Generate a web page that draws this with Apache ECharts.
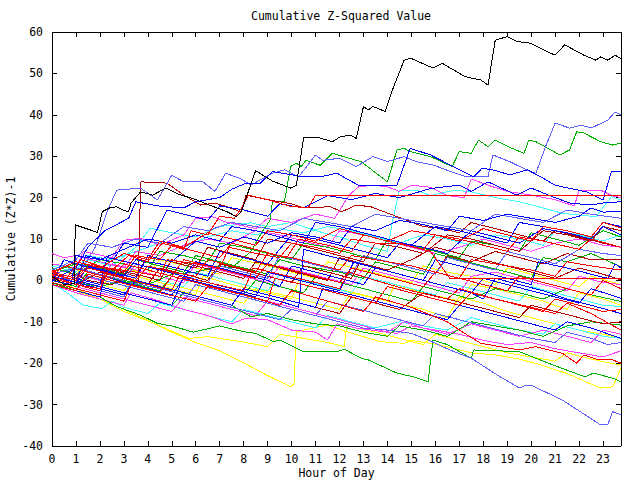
<!DOCTYPE html>
<html><head><meta charset="utf-8">
<script src="https://cdn.jsdelivr.net/npm/echarts@6/dist/echarts.min.js"></script>
<style>html,body{margin:0;padding:0;background:#fff}#c{width:640px;height:480px}#c svg path{shape-rendering:crispEdges}</style>
</head><body><div id="c"></div>
<script>
// x tick labels (hours)
const hourTicks = [0,1,2,3,4,5,6,7,8,9,10,11,12,13,14,15,16,17,18,19,20,21,22,23];
const yTicks = [-40,-30,-20,-10,0,10,20,30,40,50,60];

// series values: [hour, cumulative (z*z)-1]
const K1 = [[0,1],[0.5,-1],[0.93,-0.8],[0.97,13.4],[1.9,11.6],[2.1,16.6],[2.4,17.5],[2.7,17.8],[2.95,17],[3.2,16.6],[3.3,18.7],[3.7,21.4],[4.2,20.6],[4.75,22.3],[5.2,21],[6.0,19.5],[6.75,17.8],[7.3,16.6],[7.7,15.4],[7.9,16.6],[8.5,26.5],[9.2,24],[9.96,22.3],[10.2,23],[10.5,34.4],[11.07,34.6],[11.7,33.5],[12.04,34.7],[12.46,35.1],[12.7,34.3],[13.0,42],[13.2,41.2],[13.4,42],[13.9,40.8],[14.26,46.8],[14.7,53.2],[14.96,53.7],[15.9,51.3],[16.3,52.4],[17.25,49.2],[17.9,48.4],[18.2,47.2],[18.5,58],[19.0,58.9],[19.4,57.7],[19.96,57.3],[20.4,56],[21.0,54.4],[21.4,56.9],[22.2,54.4],[22.7,53.2],[22.9,54],[23.2,53.2],[23.5,54.4],[23.75,53.6]];
const S1 = [[0,1.5],[0.8,0],[1.3,3],[1.8,8],[2.3,16.6],[2.7,21.8],[3.7,22.3],[4.4,19.4],[5.0,25.4],[5.5,23.8],[6.3,23.8],[6.8,21.5],[7.25,25.9],[7.9,24.5],[8.3,23],[9.2,25.9],[9.7,26.7],[10.3,25],[11,30.3],[11.3,29],[12,29.5],[12.7,27.5],[13.4,29.9],[14,28.7],[14.7,29.9],[15.2,28.7],[15.9,27.9],[16.5,26.6],[17.3,25],[18.2,25],[18.4,30.3],[19.1,28.7],[19.95,26.3],[20.2,25.9],[20.6,32.3],[21,38],[21.6,36.8],[22.1,37.5],[22.5,36.8],[23.2,38.7],[23.5,40.7],[23.75,40]];
const S2 = [[0,0.5],[1,-1],[2,-2.5],[3,-4],[3.3,-0.5],[4.5,-2],[5.5,-3.5],[6.5,-5],[7.5,-6.5],[8.5,-8],[9.5,-9.5],[10,-7],[11,-8.5],[12,-10],[13,-11.5],[14,-12],[15,-12.8],[15.7,-14.4],[16.6,-16.8],[17.5,-18.8],[18.6,-22.9],[19.5,-26],[19.8,-25.3],[20,-25.3],[21.3,-28.9],[22.9,-34.9],[23.2,-34.9],[23.4,-31.7],[23.75,-32.5]];
const S3 = [[0,-1],[1,-2.5],[1.5,1],[2.5,-0.5],[3.5,-2],[4.5,-3.5],[5.5,-5],[6,-1],[7,-2.5],[8,-4],[9,-5.5],[10,-7],[11,-8.5],[11.5,-5],[12.5,-6.5],[13.5,-8],[14.5,-9.5],[15.5,-11],[16,-8],[17,-9.5],[18,-11],[19,-12.5],[20,-14],[21,-15],[21.5,-12.5],[22.5,-14],[23.2,-15.5],[23.75,-15]];
const S4 = [[0,1.5],[1,3],[2,1.5],[3,0],[3.5,4],[4.5,2.5],[5.5,1],[6.5,-0.5],[7,3.5],[8,2],[9,0.5],[9.5,6],[10.5,4.5],[11.5,3],[12.5,1.5],[13,6],[14,4.5],[15,3],[16,1.5],[16.5,5.5],[17.5,4],[18.5,2.5],[19,7],[20,5.5],[21,4],[22,7.5],[23,6.5],[23.75,6]];
const S5 = [[0,2.5],[1,5],[1.5,9],[2.5,8],[3.5,10],[4.5,9],[5.5,13],[6.5,12],[7.5,14],[8.5,13],[9.5,12],[10.5,15],[11.5,14],[12.5,13],[13.5,16],[14.5,15],[15.5,14],[16.5,13],[17.5,12],[18.5,16],[19.5,15],[20.5,14],[21.5,17],[22.5,16],[23.75,15]];
const B1 = [[0,0],[1,3],[1.5,8],[2.2,12],[3.2,15],[3.5,19],[4.4,18],[5.5,17.5],[6,19],[7,20],[7.5,22],[8.1,23.5],[8.7,23.5],[9.2,26.3],[10,25.5],[10.5,25],[11.2,25],[11.9,25.9],[12.4,24.2],[12.8,23],[14,23],[14.4,23],[14.95,31.9],[15.8,30.3],[16.75,27.5],[17.6,25],[17.95,27.1],[18.4,26.7],[19.1,25.5],[19.85,26.7],[20.4,25],[21,23],[21.3,22.6],[22.3,21.4],[23,19.4],[23.35,26.3],[23.75,26.3]];
const B2 = [[0,1],[1,-0.5],[1.4,6],[2.5,4.5],[3,9],[4,8],[4.8,17],[5.5,16],[6.5,14.5],[7,18],[8,17],[9,15.5],[9.5,18.5],[10.5,17.5],[11.5,20.5],[12.5,19.5],[13.5,21],[14.5,20],[15.8,22.2],[17,23],[17.5,21.5],[18.2,23.8],[19.4,20.6],[20,22.3],[20.9,20.2],[21.6,18.7],[22.5,18.2],[23,18.7],[23.75,19]];
const B3 = [[0,0.5],[1,-1],[1.5,3.5],[2.5,2],[3.5,0.5],[4,6],[5,4.5],[6,9.5],[7,8],[8,10.5],[9,9],[10,11.5],[11,10.5],[12,9],[12.5,13],[13.5,12],[14.5,14.5],[15.5,13.5],[16.5,12],[17,15.5],[18,14.5],[19,16],[20,15],[21,14],[22,15.5],[22.5,17.5],[23,16.5],[23.75,16.6]];
const B4 = [[0,-0.5],[0.5,5],[1,4],[2,2.5],[3,1],[3.5,5],[4.5,4],[5.5,2.5],[6.5,1],[7,7],[8,5.5],[9,4],[10,11],[11,10],[12,8.5],[13,7],[14,5.5],[14.5,9],[15.5,8],[16.5,6.5],[17.5,12],[18.5,10.5],[19.5,9],[20.5,12.5],[21.5,11.5],[22.5,10],[23,13],[23.75,11]];
const B5 = [[0,2],[1,0.5],[2,-1],[2.3,5.5],[3.5,4],[4.5,2.5],[5.5,1],[6,4.5],[7,3],[8,1.5],[9,0],[9.5,-1.5],[10,3.5],[11,2],[12,0.5],[13,-1],[13.5,3],[14.5,1.5],[15.5,0],[16.5,-1.5],[17.5,-3],[18,0.5],[19,-1],[20,-2.5],[21,-4],[22,-5.5],[22.5,-2],[23.75,-4.3]];
const B6 = [[0,1],[1,-0.5],[2,-2],[3,-3.5],[3.5,0],[4.5,-1.5],[5.5,-3],[6.5,-4.5],[7.5,-6],[8,-2],[9,-3.5],[10,-5],[11,-6.5],[11.3,-2],[12.5,-3.5],[13.5,-5],[14.5,-6.5],[15.5,-8],[16.5,-9.5],[17,-6],[18,-7.5],[19,-9],[20,-10.5],[21,-12],[21.5,-10],[22.5,-11.5],[23.75,-14]];
const B7 = [[0,1.5],[1,0],[2,-1.5],[3,-3],[4,-4.5],[5,-6],[5.5,1],[6.5,-0.5],[7.5,-2],[8.5,-3.5],[9.5,-5],[10.3,-6.5],[10.5,7.5],[11.5,6],[12.5,4.5],[13.5,3],[14.5,1.5],[15.5,0],[16.5,-1.5],[17.5,-3],[18,-4.5],[18.5,0.5],[19.5,-1],[20.5,-2.5],[21.5,-4.5],[22.5,-6],[23.75,-8]];
const B8 = [[0,-1],[1,-2.5],[2,-4],[2.2,1],[3,-0.5],[4,-2],[5,-3.5],[5.5,0.5],[6.5,-1],[7.5,-2.5],[8.5,-4],[9,2],[10,0.5],[11,-1],[12,-2.5],[12.6,4.5],[13.5,3],[14.5,1.5],[15.5,0],[16,5],[17,3.5],[18,2],[19,0.5],[20,-1],[20.3,4.5],[21.5,3],[22.5,1.5],[23.2,0.5],[23.5,4],[23.75,3]];
const B9 = [[0,0],[0.8,-1],[1,6],[2,5],[3,7.5],[4,10],[5,9],[6,11],[7,9.5],[7.5,13],[8.5,12],[9.5,10.5],[10.5,9],[11,14],[12,13],[13,11.5],[14,10],[15,8.5],[16,13],[17,12],[18,10.5],[19,9],[19.5,14],[20.5,13],[21.5,12],[22.5,10.5],[23,14],[23.75,13]];
const G1 = [[0,1],[1,-0.5],[2,-1.5],[3,0],[4,-1],[5,1.5],[6,2],[7,3.5],[7.5,3],[8.3,7],[8.8,12],[9.1,14.5],[9.2,19],[9.7,19],[9.96,27.5],[10.2,28.3],[10.4,27.5],[10.6,29],[11.2,27.8],[11.7,30.7],[12.4,29.5],[12.9,28.7],[14,23.8],[14.4,31.5],[14.7,31.9],[14.96,31.1],[15.8,29.9],[16.7,27.5],[17.0,31.1],[17.5,30.7],[17.8,33.9],[18.2,32.3],[18.5,33.9],[19.2,31.9],[19.7,30.7],[19.9,33.9],[20.2,33.5],[21.2,30.3],[21.6,31.5],[21.9,35.9],[22.2,35.6],[22.9,33.5],[23.4,32.7],[23.75,33.2]];
const G2 = [[0,-0.5],[1,-2.5],[2,-4],[2.7,-6.3],[3.7,-8.4],[4.4,-10.4],[5,-11],[5.9,-12.5],[7,-11],[8,-12.4],[8.5,-12.8],[9.25,-14.8],[9.5,-14.4],[10.5,-17.2],[11.9,-17.2],[12.2,-16.6],[12.9,-18.8],[13.2,-19.2],[14.4,-22.4],[15.1,-23.3],[15.7,-24.5],[15.9,-14.4],[16.5,-15.5],[17.5,-18.8],[17.6,-16.8],[19.5,-17.2],[20.9,-20.4],[22.25,-23.3],[22.6,-22.4],[23.4,-23.6],[23.75,-24.5]];
const G3 = [[0,1.5],[1,0],[2,-1.5],[3,-3],[4,-4.5],[5,-6],[5.5,-3],[6.5,-4.5],[7.5,-6],[8.3,-8.8],[9,-8],[10,-9.5],[11,-10.5],[12,-11],[13,-12.5],[14,-13.5],[14.5,-11],[15.5,-12],[16.5,-13.5],[17.5,-10],[18.5,-11],[19.5,-12],[20.5,-13.5],[21.5,-11],[22.5,-10],[23.75,-10.8]];
const G4 = [[0,2],[1,4],[2,3],[3,1.5],[3.5,5],[4.5,3.5],[5.5,2],[6,6],[7,4.5],[8,3],[9,1.5],[9.5,5],[10.5,3.5],[12,2],[13,0.5],[13.5,4.5],[14.5,3],[15.5,1.5],[16,6.5],[17,5],[18,3.5],[19,2],[20,0.5],[20.5,5.5],[21.5,4.5],[22.5,6.5],[23.75,3.3]];
const G5 = [[0,0],[1,-1.5],[1.5,2],[2.5,0.5],[3.5,-1],[4.5,-2.5],[5,1],[6,-0.5],[7,-2],[8,-3.5],[8.5,0],[9.5,-1.5],[10.5,-3],[11,1],[12,-0.5],[13,-2],[14,-3.5],[15,-5],[15.5,-1.5],[16.5,-3],[17.5,-4.5],[18.5,-2],[19.5,-3],[20.5,-4.5],[21.5,-2],[22.5,-3.5],[23.75,-5.1]];
const G6 = [[0,3],[1,1.5],[2,5],[3,4],[4,2.5],[4.5,7],[5.5,6],[6.5,4.5],[7,9],[8,8],[9,6.5],[10,5],[10.5,9],[11.5,8],[12.5,6.5],[13.5,5],[14,10],[15,8.5],[16,7],[17,5.5],[17.5,9.5],[18.5,8.5],[19.5,7],[20,11.5],[21,10],[22,8.5],[23,12],[23.75,10.5]];
const R1 = [[0,2],[1,0.5],[1.6,4],[2.5,2.5],[3.2,6],[4,4.5],[4.6,9],[5.5,7.5],[5.8,12],[6.5,11],[7.0,15.5],[7.6,15],[7.9,17.4],[8.2,20.6],[9,19.5],[10,17.8],[10.7,17.6],[11.0,20.6],[23.75,20.6]];
const R2 = [[0,1],[1,-1],[2,-2],[2.4,3],[3.5,2],[4.5,1],[4.8,5],[6,4],[7,3],[7.4,8],[8.5,6.5],[9.5,5.5],[10,9],[11,8],[12,6.5],[12.5,10],[13.5,9],[14.5,9],[15.8,7],[16.3,3],[16.6,0.5],[23.75,0.5]];
const R3 = [[0,0.5],[1,-1],[2,-2.5],[2.2,2],[3,0.5],[4,-1],[5,-2.5],[5.3,1],[6.5,-0.5],[8,-2.5],[8.4,3],[9.5,1.5],[11,-0.5],[12,-2],[12.4,2],[13.5,0],[15,-2.5],[16.5,-4.5],[17,-2],[18.5,-4.5],[20,-6.5],[21,-8],[21.5,-5.5],[22.5,-8],[23.75,-12]];
const R4 = [[0,-0.5],[1,-2],[2,-3.5],[3,-5],[3.3,-1],[4.5,-3],[6,-5],[6.5,-1.5],[8,-3.5],[9.5,-6],[10,-2.5],[11.5,-5],[13,-7.5],[13.5,-4],[15,-6.5],[16.5,-10],[17.2,-12.7],[17.9,-15.2],[19.5,-16.8],[20.2,-16],[21.3,-17.6],[21.9,-20],[22.2,-18],[22.8,-19.2],[23.4,-19.2],[23.75,-20]];
const R5 = [[0,2.5],[0.6,0.5],[1.2,5],[2,3.5],[3,2],[3.5,6],[4.5,5],[5,8.5],[6,7],[7,5.5],[7.5,9],[8.5,7.5],[9.8,5.5],[10.3,10],[11.5,8.5],[12.5,7],[13,11],[14,9.5],[15.5,7.5],[16,11],[17,10],[18,8.5],[19,7],[19.5,10.5],[20.5,9.5],[22,7.5],[22.5,10],[23.75,8]];
const R6 = [[0,1.5],[1,0],[1.5,3],[2.5,1.5],[3.5,0],[4,3.5],[5,2],[6,1],[6.5,5],[7.5,3.5],[8.5,2],[9,6.5],[10,5.5],[11,4],[12,2.5],[12.5,6],[13.5,5],[15,3.5],[16,2],[17,0.5],[17.5,5],[18.5,4],[20,2.5],[21,1],[21.5,4.5],[22.5,3.5],[23.75,2.5]];
const R7 = [[0,1],[0.5,3.5],[1.5,2],[2.5,0.5],[3,4],[4,2.5],[5,1],[5.5,5],[6.5,3.5],[7.5,2],[8.5,0.5],[9,4],[10,2.5],[11,1],[12,-0.5],[12.5,3],[13.5,1.5],[14.5,0],[15.5,-1.5],[16,2],[17,0.5],[18,-1],[19,-2.5],[19.5,1],[20.5,-0.5],[21.5,-2],[22.5,-3.5],[23,0],[23.75,-2]];
const R8 = [[0,-1],[1,-2.5],[1.5,1.5],[2.5,0],[3.5,-1.5],[4.5,-3],[5,1],[6,-0.5],[7,-2],[8,-3.5],[9,-5],[9.3,0.5],[10.5,-1],[11.5,-2.5],[12.5,-4],[13.5,-5.5],[14,-1.5],[15,-3],[16,-4.5],[17,-6],[17.5,-3],[18.5,-4.5],[19.5,-6],[20.5,-7.5],[21,-4.5],[22,-6],[23,-7.5],[23.75,-7]];
const R9 = [[0,2],[1,4.5],[2,3],[3,6.5],[4,5],[4.5,9.5],[5.5,8],[6.5,11.5],[7.5,10],[8.5,8.5],[9,12],[10,11],[11,9.5],[12,12.5],[13,11],[14,9.5],[15,12],[16,11],[17,9.5],[18,12.5],[19,11],[20,9.5],[20.5,13],[21.5,12],[22.5,10.5],[23,14],[23.75,12.7]];
const D1 = [[0,2],[0.5,0.5],[1,1.5],[1.5,0],[2.5,-1],[3,0.5],[3.6,-0.5],[3.7,23.8],[4.8,23.5],[5.5,20.6],[6.2,18.2],[6.8,18.7],[7.3,17.8],[7.9,16.5],[8.1,20.6],[9,19.5],[10,18.5],[10.5,17.5],[11.6,17.8],[12.1,16.6],[12.7,18.2],[13.3,17.8],[14.4,15.4],[15.5,13],[16.2,12.6],[17,11.5],[17.5,14],[18.5,12.5],[19.5,11],[20.5,9.5],[21,12],[22,10.5],[23,9],[23.75,8]];
const D2 = [[0,2],[1,0.5],[2,-1],[2.3,3],[3.5,1.5],[4.5,0],[5,5],[6,3.5],[7,2],[8,0.5],[8.5,4.5],[9.5,3],[10.5,1.5],[11.5,0],[12,5.5],[13,4],[14,2.5],[15,5],[16,8],[17,6.5],[18,5],[19,3.5],[20,2],[21,0.5],[22,3],[23,1.5],[23.75,0.1]];
const D3 = [[0,1],[1,-0.5],[2,-2],[3,-3.5],[3.5,0],[4.5,-1.5],[5.5,-3],[6.5,-4.5],[7.5,-6],[8,-2],[9,-3.5],[10,-5],[11,-6.5],[12,-8],[12.5,-4],[13.5,-5.5],[14.5,-7],[15.5,-3],[16.5,-4.5],[17.5,-6],[18.5,-7.5],[19.5,-9],[20,-6],[21,-7.5],[22,-9],[23,-10.5],[23.75,-10]];
const D4 = [[0,1.5],[1,0],[1.3,4],[2.5,2.5],[3.5,1],[4,6],[5,4.5],[6,3],[6.5,8],[7.5,6.5],[8.5,5],[9,10],[10,9],[11,7.5],[12,6],[13,4.5],[13.5,9],[14.5,8],[15.5,6.5],[16.5,11],[17.5,10],[18.5,8.5],[19.5,7],[20.5,12],[21.5,11],[22.5,9.5],[23,13],[23.75,12]];
const D5 = [[0,0.5],[1,-1],[2,2],[3,0.5],[4,-1],[4.5,3],[5.5,1.5],[6.5,0],[7,4],[8,2.5],[9,1],[10,-0.5],[10.5,3.5],[11.5,2],[12.5,0.5],[13,6],[14,4.5],[15,3],[16,1.5],[16.5,6],[17.5,4.5],[18.5,7],[19.5,5.5],[20.5,4],[21.5,6.5],[22.5,5],[23.75,5]];
const M1 = [[0,4],[1,3],[1.3,7],[2.5,5.5],[3,9.7],[3.7,10.2],[4.5,8.5],[5.5,11],[6,15],[6.7,15.4],[7.2,14.2],[8.5,12.5],[9,15],[10,14],[11,16],[11.8,15],[12.4,20.6],[12.8,22.6],[13.4,23],[14,22.6],[14.5,21.5],[15,23],[15.8,22.5],[16.5,20.5],[17.2,20],[17.5,24.5],[18.3,22.8],[19,21.5],[20,20.6],[21,19.5],[21.8,18],[22,21.6],[22.9,21.8],[23.4,20.4],[23.75,20]];
const M2 = [[0,-1],[1,-3],[2,-4.5],[3,-6],[3.3,-3],[4.5,-5],[5.5,-7],[6.5,-8.5],[7.5,-10.5],[8.1,-9.1],[9,-9.5],[10,-12],[11,-12.5],[11.5,-14.4],[11.9,-10.5],[12.7,-11.5],[13.7,-12.3],[14.4,-12.8],[15,-11],[16,-12],[17,-13],[18,-14.5],[19,-15.5],[20,-15],[21,-16.5],[22,-17.5],[23,-18.5],[23.75,-17]];
const M3 = [[0,6.5],[0.5,5.5],[1,6],[2,4.5],[3,3],[3.5,7],[4.5,6],[5.5,8.5],[6.5,10],[7.5,9],[8.5,12],[9.5,11],[10.5,9.5],[11.5,8],[12,12],[13,11],[14,9.5],[15,8],[16,6.5],[17,8],[18,10],[19,8.5],[20,7],[21,9],[22,10],[23,8.5],[23.75,8]];
const M4 = [[0,0],[1,-1.5],[2,-3],[3,-4.5],[4,-6],[5,-7.5],[5.5,-4],[6.5,-5.5],[7.5,-7],[8.5,-8.5],[9,-5],[10,-6.5],[11,-8],[12,-9.5],[13,-11],[14,-12.5],[14.7,-10],[15.5,-11.5],[16.5,-13],[17.5,-10.5],[18.5,-12],[19.5,-13.5],[20.5,-12],[21.5,-13.5],[22.5,-15],[23,-12],[23.75,-13]];
const M5 = [[0,3],[1,1.5],[2,0],[2.5,4],[3.5,2.5],[4.5,1],[5.5,-0.5],[6,4],[7,2.5],[8,1],[9,-0.5],[9.5,3.5],[10.5,2],[11.5,0.5],[12.5,-1],[13,3],[14,1.5],[15,0],[16,-1.5],[17,-3],[17.5,1],[18.5,2],[19.5,0.5],[20.5,-1],[21.5,-2.5],[22,1],[23,-0.5],[23.75,-1]];
const C1 = [[0,3.5],[1,2],[1.5,5],[2.5,3.5],[3.5,8],[4.1,12.6],[5,11.5],[6,10.5],[7,13],[8.3,13.9],[9,13],[10,14],[11,12],[12,10.5],[13,8.5],[14,7],[14.2,13.9],[14.5,21.8],[15.2,21.8],[15.8,20.5],[16.8,21.8],[17.5,21.4],[18.5,20],[19.5,19],[20.5,17.5],[21.3,16.2],[22.7,15.4],[23.35,20.2],[23.75,19.4]];
const C2 = [[0,2],[1,0.5],[2,-1],[2.5,3],[3.5,1.5],[4.5,0],[5.5,-1.5],[6,2],[7,0.5],[8,-1],[9,-2.5],[9.5,1.5],[10.5,0],[11.5,-1.5],[12.5,-3],[13,1],[14,-0.5],[15,-2],[16,-3.5],[16.5,-0.5],[17.5,-2],[18.5,-3.5],[19.5,-5],[20,-1.5],[21,-3],[22,-4.5],[23,-6],[23.75,-6.3]];
const C3 = [[0,-0.5],[0.75,-3.5],[1.3,-6],[2.1,-6.8],[2.5,-5],[3,-6.5],[4,-8],[4.5,-5.5],[5.5,-7],[6.5,-8.5],[7.5,-10],[8,-7],[9,-8.5],[10,-10],[11,-11.5],[11.5,-8.5],[12.5,-10],[13.5,-11.5],[14.5,-10],[15.5,-11],[16.5,-12],[17.5,-9],[18.5,-10.5],[19.5,-12],[20.5,-13],[21,-10.5],[22,-12],[23,-13.5],[23.75,-14]];
const C4 = [[0,4],[1,2.5],[1.5,6],[2.5,5],[3.5,7],[4.5,9],[5.5,8],[6.5,10.5],[7.5,12],[8.5,11],[9.5,12.5],[10.5,11.5],[11.5,13],[12.5,12],[13.5,10.5],[14.5,9],[15.5,11],[16.5,10],[17.5,8.5],[18.5,11],[19.5,10],[20.5,8.5],[21,12],[22,11],[23,9.5],[23.75,11]];
const Y1 = [[0,0.5],[1,-2],[2,-4.5],[3,-7.5],[4.1,-10],[5,-12.5],[6,-15],[7,-17],[7.9,-19.6],[9,-23],[9.96,-25.7],[10.1,-25],[10.2,-12.4],[10.9,-11.5],[11.5,-10.8],[12.3,-12.4],[13.7,-14.8],[14.7,-15.2],[15,-14.5],[16.2,-15.6],[17.5,-17.5],[18.5,-18],[19.5,-19],[20.4,-20.4],[21.5,-22.5],[22.4,-24.8],[22.9,-26],[23.4,-25.7],[23.75,-21.2]];
const Y2 = [[0,-0.5],[1,-2.5],[2,-4.5],[3,-7],[4.3,-10.5],[5.7,-14],[6.5,-13.6],[7.9,-14.8],[9,-16],[9.5,-13],[10.5,-14],[11.5,-15],[12.2,-16],[12.3,-11],[13.5,-12.5],[14.5,-14],[15.5,-15.5],[16,-13],[17,-14.5],[18,-16],[19,-17.5],[20,-18.5],[21,-19.5],[21.5,-17.5],[22.5,-19],[23.75,-20.5]];
const Y3 = [[0,2],[1,0.5],[2,-1],[3,-2.5],[3.5,1],[4.5,-0.5],[6,-2.5],[7,-4],[8,-5.5],[8.5,-2],[10,-4],[11,-5.5],[12,-7],[12.5,-3],[14,-5],[15.5,-7],[16.5,-9],[17,-4],[18,-5.5],[19,-7.5],[20,-9],[21,-10.5],[22,-12],[23,-13],[23.75,-14]];
const Y4 = [[0,1],[1,-0.5],[2,-2],[2.5,1.5],[3.5,0],[5,-2],[6,-3.5],[6.3,1],[7.5,-1],[9,-3],[10,-4.5],[10.3,0],[11.5,-1.5],[13,-3.5],[14,-5],[14.3,-1],[15.5,-3],[17,-5],[17.5,-1],[18.5,-2],[19.5,-3.5],[20.5,-5],[21.5,-7],[22,-3],[23,-4.5],[23.75,-6]];
const Y5 = [[0,3],[1,1.5],[1.5,5],[3,3],[4,1.5],[4.5,5],[6,3],[7,1.5],[7.5,5.5],[9,3.5],[10,2],[11,0.5],[11.5,4.5],[13,2.5],[14,1],[15,-0.5],[15.5,3.5],[16.5,2],[17.5,1],[18.5,-1],[19,3],[20,1.5],[21,0],[22,-1.5],[22.5,1],[23.75,-1]];

const RED='#ff0000', GRN='#00b000', BLU='#0000ff', MAG='#ff40ff', CYN='#40ffff', DRD='#b00000', YEL='#ffff00', BLK='#000000', SLT='#6060ff';
const seriesList = [
  [Y1,YEL],[Y2,YEL],[Y3,YEL],[Y4,YEL],[Y5,YEL],
  [C1,CYN],[C2,CYN],[C3,CYN],[C4,CYN],
  [M1,MAG],[M2,MAG],[M3,MAG],[M4,MAG],[M5,MAG],
  [G1,GRN],[G2,GRN],[G3,GRN],[G4,GRN],[G5,GRN],[G6,GRN],
  [D1,DRD],[D2,DRD],[D3,DRD],[D4,DRD],[D5,DRD],
  [S1,SLT],[S2,SLT],[S3,SLT],[S4,SLT],[S5,SLT],
  [B1,BLU],[B2,BLU],[B3,BLU],[B4,BLU],[B5,BLU],[B6,BLU],[B7,BLU],[B8,BLU],[B9,BLU],
  [R1,RED],[R2,RED],[R3,RED],[R4,RED],[R5,RED],[R6,RED],[R7,RED],[R8,RED],[R9,RED],
  [K1,BLK]
];

const FONT = 'DejaVu Sans Mono';
const chart = echarts.init(document.getElementById('c'), null, {renderer:'svg'});
const axisCommon = {
  type:'value', axisLine:{show:true, onZero:false, lineStyle:{color:'#000', width:1}},
  axisTick:{show:true, inside:true, length:5, lineStyle:{color:'#000'}},
  splitLine:{show:false}
};
chart.setOption({
  animation:false,
  backgroundColor:'#fff',
  title:{text:'Cumulative Z-Squared Value', left:336, top:5, textAlign:'center',
    textStyle:{fontFamily:FONT, fontSize:11.5, fontWeight:'normal', color:'#000'}},
  grid:{left:52, right:19, top:32, bottom:34, containLabel:false, outerBoundsMode:'none'},
  xAxis:[
    Object.assign({}, axisCommon, {position:'bottom', min:0, max:23.75, interval:1,
      name:'Hour of Day', nameLocation:'middle', nameGap:21, nameMoveOverlap:false,
      nameTextStyle:{fontFamily:FONT, fontSize:11.5, color:'#000'},
      axisLabel:{show:true, margin:7, fontFamily:FONT, fontSize:11.5, color:'#000', showMaxLabel:false,
        formatter:v => hourTicks.indexOf(v) >= 0 ? String(v) : ''}}),
    Object.assign({}, axisCommon, {position:'top', min:0, max:23.75, interval:1, axisLabel:{show:false}})
  ],
  yAxis:[
    Object.assign({}, axisCommon, {position:'left', min:-40, max:60, interval:10,
      name:'Cumulative (Z*Z)-1', nameLocation:'middle', nameGap:35, nameRotate:90, nameMoveOverlap:false,
      nameTextStyle:{fontFamily:FONT, fontSize:11.5, color:'#000'},
      axisLabel:{show:true, margin:9, fontFamily:FONT, fontSize:11.5, color:'#000',
        formatter:v => yTicks.indexOf(v) >= 0 ? String(v) : ''}}),
    Object.assign({}, axisCommon, {position:'right', min:-40, max:60, interval:10, axisLabel:{show:false}})
  ],
  series: seriesList.map(([d,c]) => ({
    type:'line', data:d, showSymbol:false, symbol:'none', silent:true, clip:true,
    lineStyle:{color:c, width:1}, itemStyle:{color:c}
  }))
});
</script></body></html>
